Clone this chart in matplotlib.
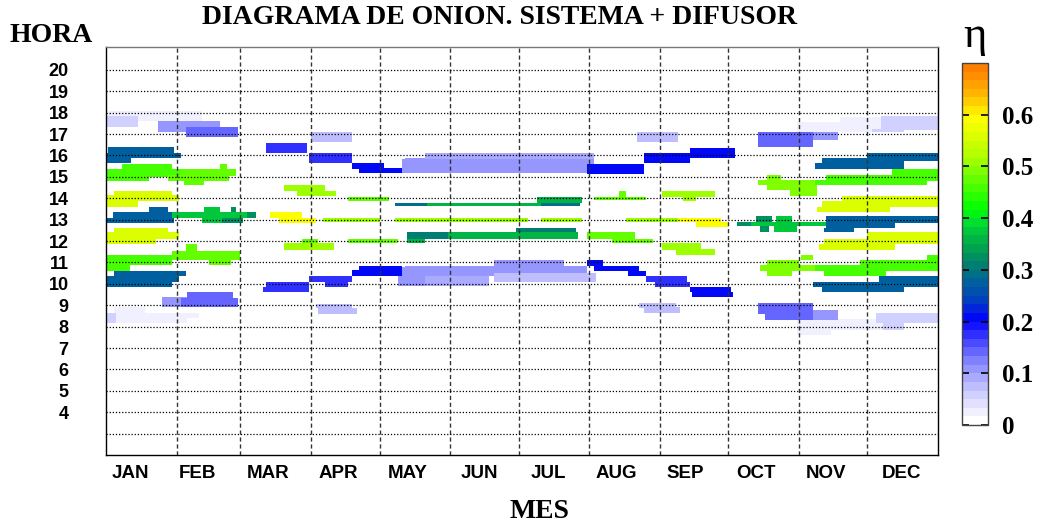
import numpy as np
import matplotlib
matplotlib.use("Agg")
import matplotlib.pyplot as plt
from matplotlib.colors import LinearSegmentedColormap, Normalize
from matplotlib.cm import ScalarMappable

# ----- month axis (day of year) -----
MONTHS = ["JAN", "FEB", "MAR", "APR", "MAY", "JUN", "JUL", "AUG", "SEP", "OCT", "NOV", "DEC"]
MONTH_LABEL_DAY = [10.5, 40, 71, 102, 132.5, 164, 194, 224, 254, 285, 316, 349]
MONTH_START_DAY = [31, 59, 90, 120, 151, 181, 212, 243, 273, 304, 334]
HOURS = list(range(3, 21))

# ----- efficiency blocks: (day_from, day_to, hour_from, hour_to, eta) -----
lavender_pm = [
    (1, 42, 17.6, 18.1, 0.03),
    (0, 14, 17.35, 17.85, 0.065),
    (23, 50, 17.1, 17.6, 0.105),
    (35, 58, 16.87, 17.35, 0.14),
    (90, 108, 16.65, 17.1, 0.08),
    (233, 251, 16.65, 17.1, 0.08),
    (286, 310, 16.4, 17.1, 0.14),
    (310, 321, 16.7, 17.1, 0.105),
    (303, 341, 17.1, 17.55, 0.03),
    (322, 341, 17.55, 17.8, 0.025),
    (336, 350, 17.1, 17.25, 0.065),
    (340, 365, 17.2, 17.85, 0.065),
]

summer_pm = [
    (131, 214, 15.2, 15.9, 0.1),
    (140, 214, 15.85, 16.1, 0.085),
    (130, 140, 15.2, 15.85, 0.115),
    (200, 211, 15.2, 15.75, 0.115),
]

blue_pm = [
    (70, 88, 16.1, 16.6, 0.17),
    (89, 108, 15.65, 16.1, 0.18),
    (108, 122, 15.35, 15.65, 0.2),
    (111, 130, 15.2, 15.4, 0.2),
    (211, 236, 15.15, 15.6, 0.2),
    (236, 256, 15.65, 16.1, 0.2),
    (256, 276, 15.9, 16.35, 0.2),
]

teal_16 = [
    (1, 30, 16.0, 16.4, 0.28),
    (0, 33, 15.9, 16.1, 0.28),
    (0, 11, 15.65, 15.95, 0.28),
    (334, 365, 15.75, 16.1, 0.28),
    (314, 350, 15.6, 15.9, 0.28),
    (311, 350, 15.35, 15.65, 0.28),
]

green_15 = [
    (7, 29, 15.3, 15.6, 0.45),
    (0, 33, 15.0, 15.35, 0.45),
    (0, 19, 14.8, 15.0, 0.45),
    (33, 57, 15.05, 15.35, 0.48),
    (27, 54, 14.8, 15.1, 0.48),
    (34, 43, 14.6, 14.8, 0.48),
    (50, 53, 15.35, 15.6, 0.48),
    (290, 296, 14.85, 15.1, 0.49),
    (286, 312, 14.6, 14.85, 0.49),
    (290, 301, 14.4, 14.6, 0.49),
    (300, 312, 14.1, 14.6, 0.49),
    (316, 365, 14.8, 15.1, 0.45),
    (311, 360, 14.6, 14.85, 0.45),
    (345, 365, 15.1, 15.35, 0.45),
]

yellow_14 = [
    (3.5, 29, 13.95, 14.35, 0.56),
    (0, 32, 13.85, 14.15, 0.56),
    (0, 14, 13.6, 13.9, 0.56),
    (323, 365, 13.85, 14.1, 0.56),
    (314, 365, 13.6, 13.85, 0.56),
    (312, 344, 13.35, 13.6, 0.56),
]

mid_14 = [
    (78, 96, 14.35, 14.6, 0.51),
    (84, 101, 14.1, 14.35, 0.51),
    (106, 124, 13.88, 14.05, 0.47),
    (127, 141, 13.62, 13.8, 0.29),
    (141, 191, 13.62, 13.8, 0.36),
    (191, 208, 13.62, 13.8, 0.29),
    (189, 209, 13.8, 14.05, 0.35),
    (214, 237, 13.9, 14.05, 0.48),
    (225, 228, 14.05, 14.35, 0.48),
    (244, 267, 14.07, 14.35, 0.51),
    (253, 259, 13.88, 14.07, 0.51),
]

band_13 = [
    (19, 27, 13.3, 13.6, 0.28),
    (3, 29, 13.1, 13.35, 0.28),
    (0, 30, 12.85, 13.1, 0.28),
    (29, 62, 13.1, 13.35, 0.37),
    (43, 50, 13.35, 13.6, 0.37),
    (42, 51, 12.85, 13.1, 0.37),
    (51, 60, 12.85, 13.1, 0.32),
    (55, 57, 13.35, 13.6, 0.32),
    (62, 66, 13.1, 13.35, 0.32),
    (72, 86, 13.1, 13.35, 0.59),
    (76, 92, 12.85, 13.1, 0.59),
    (95, 120, 12.88, 13.08, 0.51),
    (127, 185, 12.88, 13.08, 0.51),
    (191, 209, 12.88, 13.08, 0.51),
    (228, 251, 12.88, 13.08, 0.51),
    (251, 270, 12.88, 13.1, 0.59),
    (259, 273, 12.65, 12.88, 0.59),
    (277, 283, 12.7, 12.9, 0.32),
    (283, 316, 12.7, 12.9, 0.37),
    (285, 292, 12.9, 13.15, 0.32),
    (294, 301, 12.9, 13.15, 0.37),
    (293, 303, 12.4, 12.7, 0.37),
    (287, 291, 12.4, 12.7, 0.32),
    (316, 365, 12.85, 13.15, 0.28),
    (316, 346, 12.6, 12.85, 0.28),
    (315, 328, 12.4, 12.6, 0.28),
]

band_12 = [
    (3.5, 27, 12.35, 12.6, 0.56),
    (0, 32, 12.1, 12.4, 0.56),
    (0, 22, 11.85, 12.1, 0.56),
    (86, 93, 11.9, 12.1, 0.48),
    (78, 100, 11.6, 11.9, 0.51),
    (106, 128, 11.9, 12.1, 0.47),
    (132, 150, 12.1, 12.4, 0.3),
    (150, 207, 12.1, 12.4, 0.36),
    (180, 206, 12.4, 12.6, 0.3),
    (132, 140, 11.9, 12.1, 0.36),
    (211, 232, 12.1, 12.4, 0.48),
    (222, 240, 11.9, 12.1, 0.48),
    (244, 261, 11.6, 11.9, 0.51),
    (250, 267, 11.35, 11.65, 0.51),
    (334, 365, 12.1, 12.4, 0.56),
    (315, 365, 11.85, 12.1, 0.56),
    (313, 346, 11.6, 11.85, 0.56),
]

green_11 = [
    (0, 29, 10.9, 11.35, 0.45),
    (0, 10.5, 10.6, 10.9, 0.45),
    (29, 59, 11.1, 11.55, 0.48),
    (35, 40, 11.55, 11.85, 0.48),
    (45, 55, 10.9, 11.1, 0.48),
    (290, 304, 10.9, 11.1, 0.49),
    (287, 318, 10.6, 10.9, 0.49),
    (290, 301, 10.35, 10.6, 0.49),
    (305, 310, 11.1, 11.35, 0.49),
    (311, 365, 10.6, 10.9, 0.45),
    (315, 342, 10.35, 10.6, 0.45),
    (331, 365, 10.9, 11.1, 0.45),
    (360, 365, 11.1, 11.35, 0.45),
]

teal_10 = [
    (3.5, 35, 10.35, 10.6, 0.28),
    (0, 32, 10.1, 10.35, 0.28),
    (0, 29, 9.85, 10.1, 0.28),
    (339, 365, 9.85, 10.35, 0.28),
    (310, 339, 9.85, 10.1, 0.28),
    (314, 350, 9.6, 9.85, 0.28),
]

summer_am = [
    (131, 211, 10.35, 10.85, 0.1),
    (170, 201, 10.8, 11.1, 0.1),
    (128, 168, 9.9, 10.35, 0.085),
    (170, 215, 10.1, 10.5, 0.075),
    (128, 140, 9.9, 10.8, 0.115),
]

blue_am = [
    (70, 89, 9.85, 10.1, 0.17),
    (69, 89, 9.6, 9.85, 0.17),
    (89, 108, 10.1, 10.35, 0.18),
    (96, 106, 9.85, 10.1, 0.18),
    (108, 130, 10.35, 10.65, 0.2),
    (111, 130, 10.6, 10.85, 0.2),
    (211, 218, 10.85, 11.1, 0.2),
    (214, 234, 10.6, 10.85, 0.2),
    (229, 237, 10.35, 10.6, 0.2),
    (237, 255, 10.1, 10.35, 0.18),
    (241, 256, 9.85, 10.1, 0.18),
    (256, 274, 9.6, 9.85, 0.21),
    (257, 275, 9.4, 9.6, 0.21),
]

lavender_am = [
    (3.5, 17, 8.6, 8.9, 0.03),
    (4.5, 41, 8.4, 8.65, 0.03),
    (4.5, 35.5, 8.15, 8.4, 0.03),
    (0, 4.5, 8.15, 8.65, 0.065),
    (24.5, 35.5, 8.9, 9.4, 0.105),
    (35.5, 55.7, 9.35, 9.6, 0.14),
    (33, 58, 8.9, 9.35, 0.14),
    (92, 108, 8.85, 9.05, 0.08),
    (93, 110, 8.6, 8.85, 0.08),
    (234, 250, 8.85, 9.1, 0.08),
    (236, 252, 8.65, 8.9, 0.08),
    (303, 341, 7.85, 8.35, 0.03),
    (303, 318, 7.6, 7.9, 0.03),
    (338, 365, 8.15, 8.65, 0.065),
    (341, 350, 7.85, 8.2, 0.065),
    (286, 310, 8.6, 9.1, 0.14),
    (289, 311, 8.3, 8.65, 0.14),
    (310, 321, 8.3, 8.8, 0.105),
]

# ----- colour scale for eta -----
ETA_MAX = 0.7
eta_palette = [
    (0.00, "#ffffff"), (0.02, "#eeeeff"), (0.04, "#dcdcff"), (0.06, "#c8c8ff"),
    (0.08, "#b0b0ff"), (0.10, "#9999ff"), (0.12, "#8080ff"), (0.14, "#6060ff"),
    (0.16, "#4040ff"), (0.18, "#2020ff"), (0.20, "#0000ff"), (0.22, "#0022dd"),
    (0.24, "#0040c0"), (0.26, "#0055aa"), (0.28, "#006699"), (0.30, "#007777"),
    (0.32, "#008a66"), (0.34, "#00a050"), (0.37, "#00c040"), (0.40, "#00e828"),
    (0.42, "#00ff00"), (0.44, "#22ff00"), (0.47, "#55ff00"), (0.50, "#88ff00"),
    (0.52, "#aaff00"), (0.55, "#ccff00"), (0.58, "#eeff00"), (0.60, "#ffff00"),
    (0.62, "#ffe000"), (0.64, "#ffc000"), (0.66, "#ffa800"), (0.68, "#ff9000"),
    (0.70, "#ff8000"),
]
cmap = LinearSegmentedColormap.from_list(
    "eta", [(v / ETA_MAX, c) for v, c in eta_palette], N=42)
norm = Normalize(0, ETA_MAX)

SERIF = "Liberation Serif"
SANS = "Liberation Sans"

fig = plt.figure(figsize=(10.43, 5.26), dpi=100)
ax = fig.add_axes([106 / 1043, 1 - 455 / 526, 832 / 1043, 408 / 526])

layers = [lavender_pm, summer_pm, blue_pm, teal_16, green_15, yellow_14, mid_14,
          band_13, band_12, green_11, teal_10, summer_am, blue_am, lavender_am]
for blocks in layers:
    b = np.array(blocks, dtype=float)
    ax.bar(b[:, 0], b[:, 3] - b[:, 2], width=b[:, 1] - b[:, 0], bottom=b[:, 2],
           align="edge", color=cmap(norm(b[:, 4])), linewidth=0, zorder=1)

ax.set_xlim(0, 365)
ax.set_ylim(2.0, 21.07)

ax.set_xticks(MONTH_LABEL_DAY)
ax.set_xticklabels(MONTHS, fontsize=13.5, fontweight="bold", family=SANS)
ax.set_xticks(MONTH_START_DAY, minor=True)
ax.set_yticks(HOURS)
ax.set_yticklabels(["" if h == 3 else str(h) for h in HOURS],
                   fontsize=13, fontweight="bold", family=SANS)
ax.tick_params(axis="both", which="both", length=0)
ax.tick_params(axis="x", pad=7)
ax.tick_params(axis="y", pad=27)

ax.set_axisbelow(False)
ax.grid(axis="y", which="major", color="black", linestyle=(0, (1, 1.5)), linewidth=0.9)
ax.grid(axis="x", which="minor", color="#333333", linestyle=(0, (3, 2)), linewidth=1.0)
ax.grid(axis="x", which="major", visible=False)
for s in ax.spines.values():
    s.set_color("black")
    s.set_linewidth(1.0)
ax.spines["top"].set_color("#777777")

fig.text(500 / 1043, 1 - 18 / 526, "DIAGRAMA DE ONION. SISTEMA + DIFUSOR",
         ha="center", va="center", fontsize=20, fontweight="bold", family=SERIF)
fig.text(10 / 1043, 1 - 35 / 526, "HORA", ha="left", va="center",
         fontsize=20, fontweight="bold", family=SERIF)
fig.text(539 / 1043, 1 - 511 / 526, "MES", ha="center", va="center",
         fontsize=20, fontweight="bold", family=SERIF)
fig.text(975 / 1043, 1 - 36 / 526, "η", ha="center", va="center",
         fontsize=32, family=SERIF)

# ----- colour bar -----
cax = fig.add_axes([962 / 1043, 1 - 425 / 526, 26 / 1043, 362 / 526])
sm = ScalarMappable(norm=norm, cmap=cmap)
cbar = fig.colorbar(sm, cax=cax, ticks=[0, 0.1, 0.2, 0.3, 0.4, 0.5, 0.6])
cbar.ax.set_yticklabels(["0", "0.1", "0.2", "0.3", "0.4", "0.5", "0.6"],
                        fontsize=18, fontweight="bold", family=SERIF)
cax.tick_params(direction="in", left=True, right=True, length=5, width=1.2,
                color="black", pad=10)
cbar.outline.set_edgecolor("#444444")
cbar.outline.set_linewidth(1.0)

fig.savefig("out.png", dpi=100)
